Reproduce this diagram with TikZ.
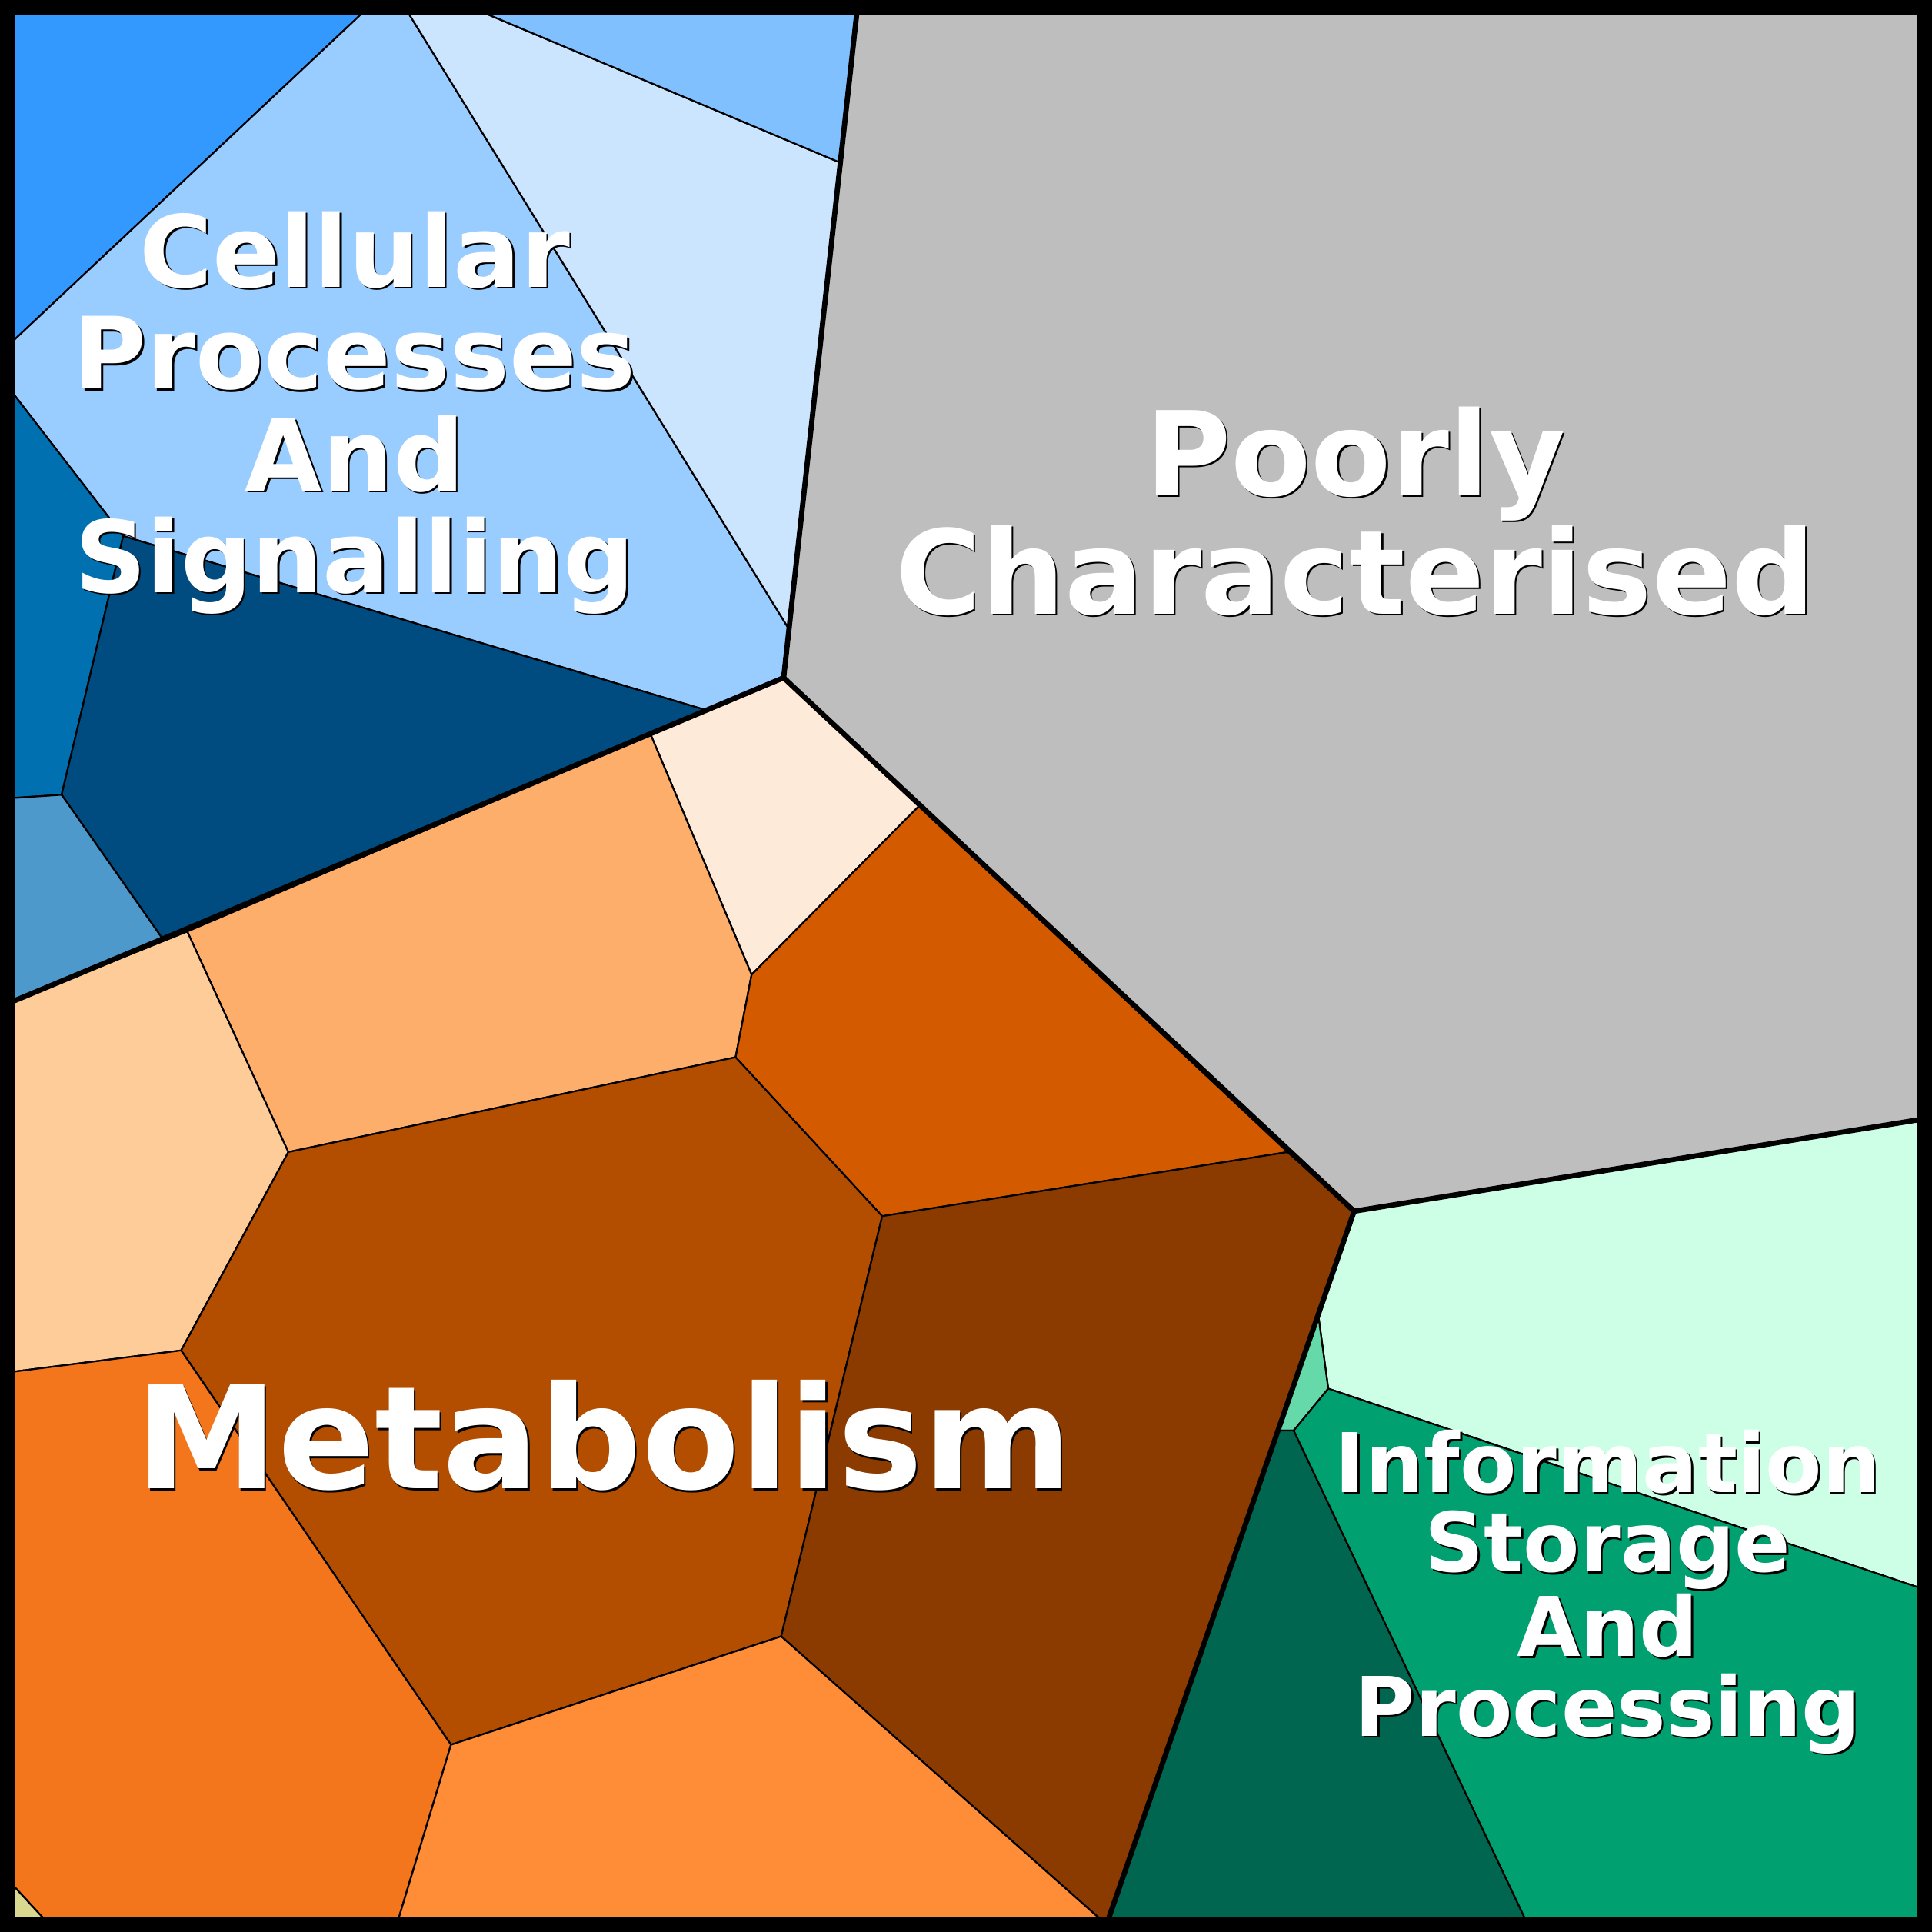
\documentclass[tikz,border=0pt]{standalone}
\usepackage{fontspec}
\setmainfont{DejaVu Sans}
\tikzset{
  cell/.style={draw=black, line width=0.4pt},
  group/.style={draw=black, line width=1.2pt},
  lbl/.style={text=white, font=\bfseries, align=center},
  shadowlbl/.style={text=black, font=\bfseries, align=center}
}
\definecolor{cpA}{HTML}{3399FF}
\definecolor{cpB}{HTML}{99CCFF}
\definecolor{cpC}{HTML}{CCE5FF}
\definecolor{cpD}{HTML}{80C0FF}
\definecolor{cpE}{HTML}{0070B0}
\definecolor{cpF}{HTML}{004C80}
\definecolor{cpG}{HTML}{4D99CC}
\definecolor{mtA}{HTML}{FEEAD9}
\definecolor{mtB}{HTML}{FDAE6B}
\definecolor{mtC}{HTML}{FDCC99}
\definecolor{mtD}{HTML}{D45A00}
\definecolor{mtE}{HTML}{B34D00}
\definecolor{mtF}{HTML}{8B3A00}
\definecolor{mtG}{HTML}{F3761C}
\definecolor{mtH}{HTML}{FF8C36}
\definecolor{mtI}{HTML}{D8D890}
\definecolor{isA}{HTML}{CCFFE6}
\definecolor{isB}{HTML}{66D9AA}
\definecolor{isC}{HTML}{006650}
\definecolor{isD}{HTML}{00A070}
\definecolor{pcA}{HTML}{BEBEBE}
\newcommand{\lbltext}[4]{%
  \node[shadowlbl, font=\bfseries\fontsize{#3}{#4}\selectfont] at ([shift={(1.5,1.5)}]#1) {#2};
  \node[lbl, font=\bfseries\fontsize{#3}{#4}\selectfont] at (#1) {#2};}
\begin{document}
\begin{tikzpicture}[x=0.1mm, y=-0.1mm]
  \useasboundingbox (0,0) rectangle (1568,1568);
  \fill[white] (0,0) rectangle (1568,1568);

  % cellular processes
  \filldraw[cell, fill=cpA] (5,5) -- (300,5) -- (5,282) -- cycle;
  \filldraw[cell, fill=cpB] (300,5) -- (328,5) -- (640,510) -- (636,550) -- (572,576) -- (100,435) -- (5,312) -- (5,282) -- cycle;
  \filldraw[cell, fill=cpC] (328,5) -- (380,5) -- (682,132) -- (640,510) -- cycle;
  \filldraw[cell, fill=cpD] (380,5) -- (696,5) -- (682,132) -- cycle;
  \filldraw[cell, fill=cpE] (5,312) -- (100,435) -- (50,645) -- (5,648) -- cycle;
  \filldraw[cell, fill=cpF] (100,435) -- (572,576) -- (132,762) -- (50,645) -- cycle;
  \filldraw[cell, fill=cpG] (5,648) -- (50,645) -- (132,762) -- (5,815) -- cycle;

  % poorly characterised
  \filldraw[cell, fill=pcA] (696,5) -- (1562,5) -- (1562,908) -- (1099,983) -- (636,550) -- cycle;

  % metabolism
  \filldraw[cell, fill=mtA] (528,596) -- (636,550) -- (746,654) -- (610,791) -- cycle;
  \filldraw[cell, fill=mtB] (152,756) -- (528,596) -- (610,791) -- (597,858) -- (234,935) -- cycle;
  \filldraw[cell, fill=mtC] (5,815) -- (152,756) -- (234,935) -- (147,1096) -- (5,1114) -- cycle;
  \filldraw[cell, fill=mtD] (610,791) -- (746,654) -- (1045,935) -- (716,987) -- (597,858) -- cycle;
  \filldraw[cell, fill=mtE] (234,935) -- (597,858) -- (716,987) -- (634,1328) -- (366,1416) -- (147,1096) -- cycle;
  \filldraw[cell, fill=mtF] (716,987) -- (1045,935) -- (1099,983) -- (898,1562) -- (634,1328) -- cycle;
  \filldraw[cell, fill=mtG] (5,1114) -- (147,1096) -- (366,1416) -- (322,1562) -- (40,1562) -- (5,1524) -- cycle;
  \filldraw[cell, fill=mtH] (366,1416) -- (634,1328) -- (898,1562) -- (322,1562) -- cycle;
  \filldraw[cell, fill=mtI] (5,1524) -- (40,1562) -- (5,1562) -- cycle;

  % information storage
  \filldraw[cell, fill=isA] (1099,983) -- (1562,908) -- (1562,1290) -- (1078,1127) -- (1070,1068) -- cycle;
  \filldraw[cell, fill=isB] (1070,1068) -- (1078,1127) -- (1050,1161) -- (1037,1161) -- cycle;
  \filldraw[cell, fill=isC] (1037,1161) -- (1050,1161) -- (1240,1562) -- (898,1562) -- cycle;
  \filldraw[cell, fill=isD] (1050,1161) -- (1078,1127) -- (1562,1290) -- (1562,1562) -- (1240,1562) -- cycle;

  % group borders
  \draw[group] (696,5) -- (636,550) -- (132,762) -- (5,815);
  \draw[group] (636,550) -- (1099,983) -- (1562,908);
  \draw[group] (1099,983) -- (898,1562);
  \draw[line width=2mm] (2.5,2.5) rectangle (1565.5,1565.5);

  % labels
  \coordinate (cpl) at (288,335);
  \coordinate (pcl) at (1100,415);
  \coordinate (mtl) at (490,1165);
  \coordinate (isl) at (1305,1292);
  \lbltext{cpl}{Cellular\\Processes\\And\\Signalling}{23}{23.5}
  \lbltext{pcl}{Poorly\\Characterised}{27}{25.5}
  \lbltext{mtl}{Metabolism}{33}{36}
  \lbltext{isl}{Information\\Storage\\And\\Processing}{19}{18.3}
\end{tikzpicture}
\end{document}
